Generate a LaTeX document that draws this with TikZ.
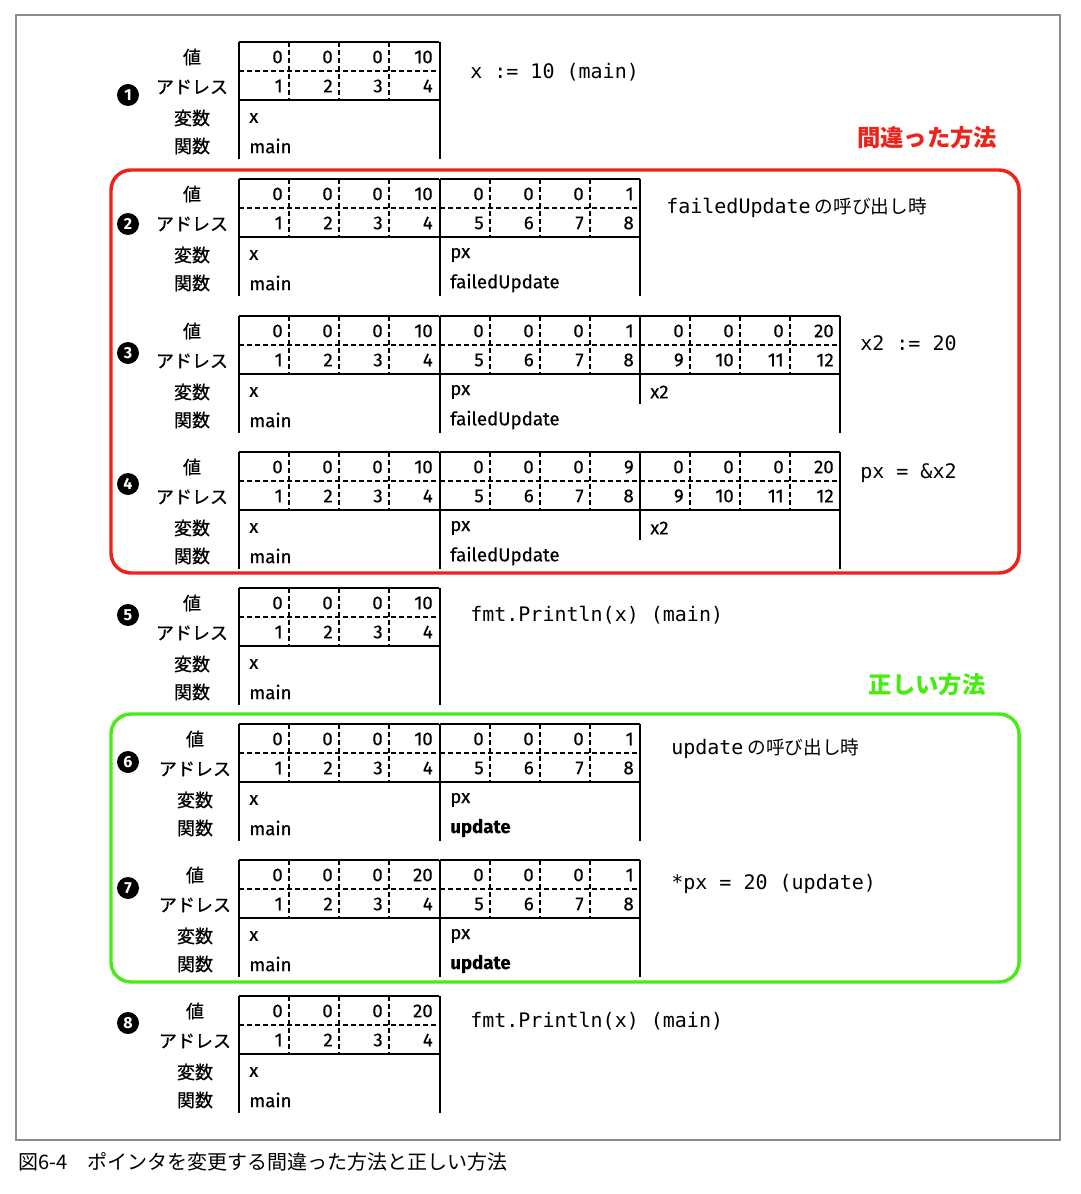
\documentclass[tikz,border=0pt]{standalone}
\usepackage{fontspec}
\setmainfont{Fira Sans}
\setmonofont{DejaVu Sans Mono}
\newfontfamily\jpfont{Noto Sans CJK JP}
\newfontfamily\jpmedium[FakeBold=0.7]{Noto Sans CJK JP}
\newfontfamily\cellfont[FakeBold=0.4]{Fira Sans}
\usepackage{xcolor}
\usepackage{tikz}
\usetikzlibrary{positioning}

\definecolor{wrongred}{HTML}{EE2218}
\definecolor{rightgreen}{HTML}{48EC12}
\definecolor{framegray}{HTML}{8C8C8C}

\tikzset{
  frameline/.style={line width=1.6pt},
  dashline/.style={line width=1.2pt, dash pattern=on 3.5pt off 2.5pt},
  rowlabel/.style={font=\jpmedium\fontsize{13.5}{13.5}\selectfont, inner sep=0pt},
  digit/.style={font=\cellfont\fontsize{14}{14}\selectfont, inner sep=0pt, anchor=east},
  varname/.style={font=\cellfont\fontsize{14}{14}\selectfont, inner sep=0pt, anchor=west},
  stepnote/.style={font=\ttfamily\fontsize{15}{15}\selectfont, inner sep=0pt, anchor=west},
  stepno/.style={circle, fill=black, text=white, inner sep=0pt, minimum size=16.5pt,
    font=\bfseries\fontsize{12}{12}\selectfont},
  groupbox/.style={line width=2.6pt, rounded corners=15pt},
  grouptitle/.style={font=\jpfont\bfseries\fontsize{17.5}{17.5}\selectfont, inner sep=0pt},
}

% labels on the left of one step: name, y top, x shift, step number, y of number
\newcommand{\rowlabels}[5]{%
  \node[rowlabel] (#1val) at (192+#3,#2+15) {値};
  \node[rowlabel] (#1adr) at (192+#3,#2+45) {アドレス};
  \node[rowlabel] (#1var) at (192+#3,#2+76) {変数};
  \node[rowlabel] (#1fun) at (192+#3,#2+104) {関数};
  \node[stepno] (#1no) at (128,#5) {#4};
}

% four bytes: name, x left, y top, values, first address
\newcommand{\bytecells}[5]{%
  \draw[frameline] (#2,#3) -- ++(200,0) (#2,#3+58) -- ++(200,0);
  \draw[dashline] (#2,#3+29) -- ++(200,0);
  \foreach \i in {1,2,3} \draw[dashline] (#2+50*\i,#3) -- ++(0,58);
  \foreach \v [count=\k] in {#4} {
    \pgfmathtruncatemacro{\adr}{#5+\k-1}
    \node[digit] (#1v\k) at (#2+50*\k-6,#3+15) {\v};
    \node[digit] (#1a\k) at (#2+50*\k-6,#3+44) {\adr};
  }
}

% one stack frame: name, x left, y top, values, first address, variable, function
\newcommand{\stackframe}[7]{%
  \bytecells{#1}{#2}{#3}{#4}{#5}
  \draw[frameline] (#2,#3) -- ++(0,117);
  \node[varname] (#1var) at (#2+10,#3+76) {#6};
  \node[varname] (#1fun) at (#2+10,#3+104) {#7};
}

\newcommand{\rightwall}[2]{\draw[frameline] (#1,#2) -- ++(0,117);}

\begin{document}
\begin{tikzpicture}[x=0.75pt, y=-0.75pt]
  \useasboundingbox (0,0) rectangle (1080,1194);
  \draw[framegray, line width=0.8pt] (16,15) rectangle (1060,1140);
  \node[anchor=west, inner sep=0pt, font=\jpfont\fontsize{15}{15}\selectfont] (caption)
    at (18,1162) {図6-4　ポインタを変更する間違った方法と正しい方法};

  % groups
  \draw[groupbox, wrongred] (111,170) rectangle (1019,573);
  \node[grouptitle, text=wrongred] (wrongtitle) at (927,138) {間違った方法};
  \draw[groupbox, rightgreen] (111,714) rectangle (1019,982);
  \node[grouptitle, text=rightgreen] (righttitle) at (927,685) {正しい方法};

  % step 1
  \rowlabels{s1}{42}{0}{1}{95}
  \stackframe{s1x}{239}{42}{0,0,0,10}{1}{x}{main}
  \rightwall{440}{42}
  \node[stepnote] (s1note) at (470,72) {x := 10 (main)};

  % step 2
  \rowlabels{s2}{179}{0}{2}{224}
  \stackframe{s2x}{239}{179}{0,0,0,10}{1}{x}{main}
  \stackframe{s2p}{440}{179}{0,0,0,1}{5}{px}{failedUpdate}
  \rightwall{640}{179}
  \node[stepnote] (s2note) at (666,208) {failedUpdate\hspace{3pt}{\jpfont\fontsize{14}{14}\selectfont の呼び出し時}};

  % step 3
  \rowlabels{s3}{316}{0}{3}{353}
  \stackframe{s3x}{239}{316}{0,0,0,10}{1}{x}{main}
  \stackframe{s3p}{440}{316}{0,0,0,1}{5}{px}{failedUpdate}
  \bytecells{s3y}{640}{316}{0,0,0,20}{9}
  \draw[frameline] (640,316) -- ++(0,88);
  \node[varname] (s3yvar) at (650,392) {x2};
  \rightwall{840}{316}
  \node[stepnote] (s3note) at (860,343) {x2 := 20};

  % step 4
  \rowlabels{s4}{452}{0}{4}{484}
  \stackframe{s4x}{239}{452}{0,0,0,10}{1}{x}{main}
  \stackframe{s4p}{440}{452}{0,0,0,9}{5}{px}{failedUpdate}
  \bytecells{s4y}{640}{452}{0,0,0,20}{9}
  \draw[frameline] (640,452) -- ++(0,88);
  \node[varname] (s4yvar) at (650,528) {x2};
  \rightwall{840}{452}
  \node[stepnote] (s4note) at (860,473) {px = \&x2};

  % step 5
  \rowlabels{s5}{588}{0}{5}{615}
  \stackframe{s5x}{239}{588}{0,0,0,10}{1}{x}{main}
  \rightwall{440}{588}
  \node[stepnote] (s5note) at (470,615) {fmt.Println(x) (main)};

  % step 6
  \rowlabels{s6}{724}{3}{6}{762}
  \stackframe{s6x}{239}{724}{0,0,0,10}{1}{x}{main}
  \stackframe{s6p}{440}{724}{0,0,0,1}{5}{px}{\bfseries update}
  \rightwall{640}{724}
  \node[stepnote] (s6note) at (671,749) {update\hspace{3pt}{\jpfont\fontsize{14}{14}\selectfont の呼び出し時}};

  % step 7
  \rowlabels{s7}{860}{3}{7}{888}
  \stackframe{s7x}{239}{860}{0,0,0,20}{1}{x}{main}
  \stackframe{s7p}{440}{860}{0,0,0,1}{5}{px}{\bfseries update}
  \rightwall{640}{860}
  \node[stepnote] (s7note) at (671,884) {*px = 20 (update)};

  % step 8
  \rowlabels{s8}{996}{3}{8}{1023}
  \stackframe{s8x}{239}{996}{0,0,0,20}{1}{x}{main}
  \rightwall{440}{996}
  \node[stepnote] (s8note) at (470,1021) {fmt.Println(x) (main)};
\end{tikzpicture}
\end{document}
